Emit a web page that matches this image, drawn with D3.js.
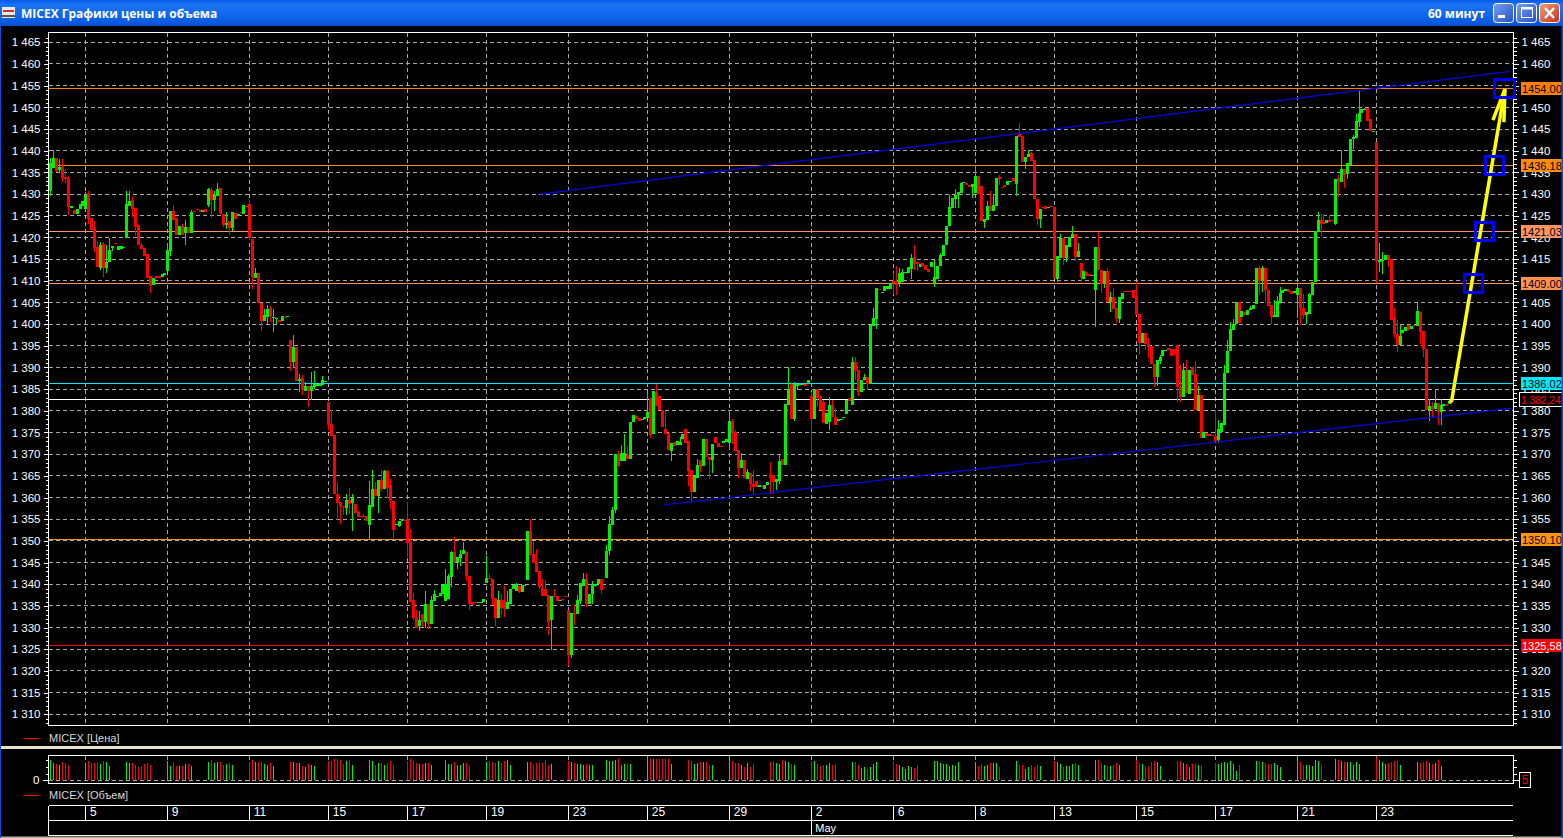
<!DOCTYPE html>
<html><head><meta charset="utf-8">
<script src="https://cdn.jsdelivr.net/npm/d3@7"></script>
<style>html,body{margin:0;padding:0;background:#000;overflow:hidden}svg{display:block}text{font-family:"Liberation Sans",Arial,sans-serif}</style>
</head><body><svg id="c" width="1563" height="838"></svg>
<script>
const titleLeft="MICEX Графики цены и объема", titleRight="60 минут";
const legendPrice="MICEX [Цена]", legendVolume="MICEX [Объем]", monthLabel="May";
const priceTicks=[1465,1460,1455,1450,1445,1440,1435,1430,1425,1420,1415,1410,1405,1400,1395,1390,1385,1380,1375,1370,1365,1360,1355,1350,1345,1340,1335,1330,1325,1320,1315,1310];
const dayTicks=[12,40,68,95,122,149,177,204,232,260,288,316,343,371,398,426,453];
const dayLabels=["5","9","11","15","17","19","23","25","29","2","6","8","13","15","17","21","23"];
const monthTick=260;
const directions=
"GGRGRRRGRG"+"GGGRRRRGRG"+"GGRGGGGGRR"+"RRRRRGRRGG"+"GGRRGRGRGR"+"RRGRGRGGRR"+"GRGRGRGRRR"+"GRRGGRGGRG"+"RGRGRGRGRG"+"GGGGGRRRRR"+
"RGRGRRRRRG"+"GRGRGRRRGG"+"GRRRRRGRGR"+"GGGGGGGGRG"+"GGRRRRGGGG"+"RRRGRRGGGG"+"RGGGRRRRRR"+"RGRRGRRRGR"+"GGGRGGGGRR"+"GGGGRGGRGG"+
"RRGGGRGRRR"+"RRGRGGGRRR"+"GGRGRRGRRR"+"GGGRRRGRGR"+"RRGRGGRRGG"+"RGGRGGGGRG"+"RGRRRGGRRG"+"GGGRGRRGGR"+"GGGRGGGGRR"+"GGGGGRRGRR"+
"RGGGGGGGGG"+"GGGRRGGRRG"+"GRGGRRRGGR"+"GRRGGRRRGR"+"RGRRGGRGGG"+"RGRGRRGGRR"+"GRGRRGGRRR"+"RRRGRRRRGG"+"GGRRRRRGRG"+"RRGRGRRRRG"+
"GGGGGGRGRG"+"GGGRGRRRGG"+"GGGRRGGRRG"+"GGGGRRGRRG"+"RGRGGGGGGG"+"RRGRGGGRRR"+"RGGGRGRGRR"+"RGRGRGGRG";
const bodyTops=[
1437.1,1438.3,1438.3,1436.3,1436.3,1434,1433.5,1427.3,1426.3,1426.5,
1427.7,1428.4,1429.7,1430.2,1424.4,1422.1,1417.7,1418.2,1418.5,1414.4,
1417.1,1418,1418.8,1418,1418,1417.9,1427.7,1428.4,1428.6,1426.7,
1422.8,1418.2,1417.5,1416.1,1411.2,1410.6,1411,1411,1411.5,1411.8,
1417.1,1426.1,1426.1,1424.4,1422.6,1422.6,1422.3,1422.3,1425.8,1426,
1426.5,1426.3,1426.3,1426.5,1431.1,1430.9,1429.8,1431.1,1431.3,1425.5,
1423.4,1423.8,1425.8,1425.7,1425.5,1425.9,1427.5,1427.2,1427.8,1419.6,
1411.8,1411.8,1404.8,1402.1,1403.4,1403.6,1401.7,1401.5,1400.9,1401.8,
1401.7,1401.8,1396.3,1394.7,1394.7,1387.3,1387.5,1385.7,1385.7,1385.7,
1386.3,1386.3,1386.3,1387.2,1386.9,1382,1376.9,1374.4,1360.9,1358.9,
1358,1359.4,1359.4,1360,1358.6,1356.6,1355.7,1355.8,1355.7,1358.2,
1361.9,1361.9,1364,1364,1366.1,1366.1,1363,1359.1,1354,1354.5,
1355,1354.8,1355,1349.7,1336.3,1332.5,1331.7,1333.2,1335.5,1335.5,
1336.3,1337.8,1337.4,1337.9,1339.8,1340,1341.8,1347.4,1347.4,1346.2,
1347,1347.8,1347.5,1341.8,1335.9,1335.9,1336,1335.8,1336.5,1341.5,
1341.5,1341.3,1336.9,1336.3,1336.3,1336.1,1335.8,1338.8,1339.8,1340,
1339.7,1339.9,1339.9,1352.2,1352.2,1346.9,1345.1,1343,1339.2,1339,
1337.6,1337.2,1337.4,1337.4,1336.3,1336.5,1337.4,1334,1333.4,1333.4,
1336.3,1340.4,1341.3,1341.1,1337.8,1340.1,1340.1,1341.1,1341.1,1339.3,
1347.6,1353.8,1357.2,1370.1,1370.1,1370.2,1370.2,1369.8,1377.5,1379,
1378.8,1378.3,1378.2,1378.5,1379.7,1383,1384.6,1384.3,1383.4,1380.3,
1375.8,1374.8,1372.5,1372.8,1373,1372.9,1374.6,1375.9,1373,1366.3,
1364.9,1367.5,1368.6,1373.6,1373.5,1369.3,1372.3,1373.9,1372.5,1371.9,
1373,1373.5,1377.6,1377.6,1375.2,1370.9,1368.6,1368.6,1365.9,1365.7,
1363.2,1363.8,1362.9,1362.6,1363,1363.5,1365.1,1365.2,1364.3,1368.4,
1368.8,1381.6,1385.1,1386.1,1386.3,1386.1,1386.2,1386.2,1386.2,1387.1,
1383.4,1385,1385,1383.4,1382,1379.4,1381.3,1381.3,1378.6,1378.2,
1378.1,1378.5,1382.5,1382.9,1391.2,1391.2,1389.4,1387.2,1387.8,1387.7,
1399.8,1401.3,1408.3,1408.1,1407.5,1408.7,1408.7,1409.5,1409.9,1410,
1411.9,1412.1,1412.1,1413.1,1415.2,1415.4,1414.4,1413.9,1414,1413.6,
1412.7,1414.3,1410.8,1413.4,1415.9,1418.3,1422.6,1427,1429,1429.8,
1430.5,1432.5,1432.7,1432.6,1432.1,1432.3,1434.2,1434.2,1431.9,1424.3,
1427.3,1427.3,1427.5,1433.6,1433.9,1431.6,1432.1,1433,1433.1,1433.6,
1443.4,1444,1443.4,1438.5,1439.3,1439.4,1437.9,1428.8,1426.6,1427,
1427.3,1427,1427.3,1426.9,1415.6,1419.9,1419.8,1418.3,1420,1420.8,
1420.8,1416.9,1414,1412.3,1412,1411.5,1411.4,1417.8,1417.8,1412.5,
1412.3,1412.3,1406.2,1406.2,1403.6,1406.2,1407.1,1407.6,1407.6,1407.6,
1407.8,1406.5,1402.3,1398,1398,1395.4,1394.9,1390.9,1391.7,1392.5,
1394,1394.1,1394.5,1394.2,1394.2,1395.2,1385.6,1389.4,1389.4,1389.4,
1390,1388.5,1383.6,1383.6,1375,1374.8,1374.6,1374.5,1374.2,1375.8,
1377.2,1388.8,1393.8,1398.8,1400.1,1405,1405.1,1403,1402.7,1403.2,
1403.8,1404.3,1412.9,1412.9,1412.9,1412.9,1407.8,1404.4,1402,1405.4,
1407.1,1407.8,1408.2,1408.1,1407.6,1407.7,1408.4,1408.4,1403.6,1402.8,
1406.9,1409.8,1421.5,1424,1424,1423.6,1424,1424,1424,1433.5,
1433.8,1435.8,1435.8,1437.1,1442.7,1443.2,1446.8,1448.8,1449.6,1449.7,
1449.8,1447.3,1444.5,1442,1414.8,1414.9,1415.9,1415.9,1415,1401.3,
1397.8,1397.2,1398.6,1399.4,1399.7,1399.5,1399.9,1403,1402.8,1398.4,
1394.2,1381.1,1381.1,1381.8,1381.7,1381.3,1381.5,1381.6,1382.2];
const bodyBottoms=[
1430.8,1435.9,1435.3,1435.5,1433.8,1433.5,1427.1,1426.8,1425.3,1425.4,
1426.5,1427.2,1426.5,1424.2,1421.7,1417.6,1413.1,1412.9,1412.9,1412.9,
1414.4,1417.5,1418.6,1417.1,1417.4,1417.8,1419.9,1427.3,1426.5,1422.4,
1418.2,1417.3,1415.8,1410.6,1408.8,1409,1410.6,1410.6,1410.8,1411.3,
1412.2,1416.8,1424.1,1420.5,1420.5,1420.5,1420.9,1420.9,1420.9,1425.9,
1426.4,1425.8,1425.8,1425.8,1427.5,1428.6,1428.6,1429.6,1425.4,1422.8,
1422.8,1422.2,1422.2,1424.2,1424.9,1425.8,1425.4,1427.1,1419.8,1410.9,
1410.6,1404.8,1400.7,1400.7,1401.7,1401.8,1401.5,1401.2,1400.5,1400.7,
1401.5,1401.7,1391.3,1391.3,1386.8,1386.8,1384.8,1384.6,1384.6,1384.5,
1385.5,1385.7,1385.7,1385.9,1386.7,1376.7,1374.1,1360.7,1358.8,1358,
1357.7,1357.6,1358.6,1358.8,1356.4,1355.5,1355.4,1355.5,1354.6,1353.6,
1357.8,1360.4,1360.4,1361.9,1361.9,1362.1,1359.1,1352.4,1353.6,1353.4,
1354.6,1354.5,1349.5,1335.9,1332.3,1330,1330.4,1331.3,1331.3,1330.8,
1330.8,1336.1,1337.3,1337.3,1337.8,1336.1,1336.5,1341.7,1345.1,1345.1,
1346,1346.9,1341.8,1335.4,1335.1,1335.7,1335.7,1335.7,1335.8,1340.2,
1341.1,1336.7,1332.2,1332.2,1334.5,1334.4,1334.4,1335.4,1338.8,1338.5,
1338.2,1338.2,1339.6,1340.9,1346.7,1345,1342.8,1339.4,1337.4,1337.4,
1331.4,1331.7,1337.1,1336.1,1336.1,1336.4,1337.1,1323.6,1323.6,1333.2,
1333.1,1336.1,1339.5,1335.4,1335.4,1337.8,1339.5,1340.1,1338.6,1339.2,
1341.4,1347.6,1353.6,1357.1,1367.3,1368.5,1368.5,1368.9,1368.9,1377.5,
1378.1,1377.7,1378,1378.1,1378.3,1374.4,1374.6,1381.2,1380.3,1376.2,
1374.7,1370.9,1370.8,1371.9,1372.2,1372.2,1373.4,1372.6,1366.1,1361.3,
1361.3,1364.6,1367.1,1367.2,1369.3,1368.6,1368.6,1372.6,1371.6,1371.7,
1372.6,1372.9,1372.6,1374.9,1370.8,1366.9,1366.8,1364.6,1364.3,1363.1,
1362.5,1362.5,1362.4,1362.4,1361.9,1362.9,1364.6,1363.5,1363.5,1363.9,
1367.5,1367.5,1381.3,1378.1,1378.2,1385.7,1385.9,1386,1385.7,1386.3,
1378.1,1378.1,1382.9,1380.2,1377.2,1376.9,1377.5,1378.6,1376.7,1377.6,
1377.8,1378.4,1379.2,1382.2,1381.3,1389.2,1384.4,1384.4,1387.2,1386.3,
1386.3,1399.6,1401.2,1407.9,1407.2,1407.6,1408.2,1408.2,1409.4,1409,
1409.4,1409.6,1411.7,1411.7,1412.7,1413.9,1413.8,1413.1,1413.4,1412.5,
1412.1,1413.1,1409.4,1410.3,1413.4,1415.8,1418.3,1422.6,1426.7,1428.8,
1429.7,1430.3,1432.6,1432.1,1431.7,1431.7,1430.2,1430,1423.8,1423.6,
1424,1426.1,1426.1,1427.3,1433.4,1431.5,1431.7,1432.1,1433,1433,
1432.3,1443.1,1437.5,1437.5,1438.5,1437.7,1428.8,1424.3,1424.3,1426.8,
1426.6,1426.9,1427.1,1410.3,1410.3,1415.2,1415.2,1415.2,1417.9,1420,
1415.4,1415.4,1410.7,1410.5,1411.2,1411.2,1411.2,1407.9,1412.5,1409.3,
1409.3,1405.2,1405.2,1403.5,1401.3,1401.2,1405.9,1407.5,1407.5,1407.5,
1406.1,1402.1,1395.7,1395.6,1395.4,1394.8,1390.8,1387.7,1387.7,1391.6,
1392.7,1393.9,1394,1392.7,1392.9,1385.6,1383.1,1383.1,1384,1383.9,
1388.3,1380.2,1380.2,1373.8,1373.8,1374.3,1374.3,1374.2,1373,1373.3,
1375.2,1376.8,1388.8,1393.8,1398.6,1400.1,1400.3,1401.7,1402.2,1402.1,
1403.2,1403.4,1404.6,1409.9,1409.9,1407.8,1404.1,1401.7,1401.6,1401.7,
1404.9,1407.1,1407.6,1407.4,1407,1407.1,1406.7,1403.6,1402.1,1402.1,
1402.3,1406.7,1409.8,1421.3,1423.2,1423.1,1423.4,1423.6,1423.7,1423.2,
1432.8,1432.7,1434.5,1434.6,1436.7,1442.6,1442.9,1446.7,1448.8,1449.5,
1446.9,1444.5,1444.4,1414.5,1414.4,1414.6,1414.8,1414.8,1401,1397.7,
1395.2,1395.2,1398,1398.5,1398.6,1398.8,1399.6,1399.5,1398.2,1394.2,
1380.3,1380.3,1380.5,1380.5,1379.8,1379.8,1381.2,1381.1,1381.6];
// 0 = no wick beyond the body
const highs=[
1438.2,1440.1,0,1438.1,1438.1,1435.8,1434.1,0,0,0,
0,0,1430.5,1430.8,0,1423.8,1418.9,1419,1419,1418.2,
1419.8,0,0,0,0,0,1430.7,1430.7,1429.5,0,
0,1418.8,0,0,0,0,0,0,0,0,
1418.8,0,1427.5,0,0,1423.2,1424.1,0,1426.3,0,
0,0,0,0,1431.5,1431.5,1430.8,1432.5,1431.5,0,
1425.8,0,0,0,0,0,0,0,1428.6,0,
1412.9,0,0,1403.4,1404.4,1404.1,1403.4,0,0,0,
0,0,0,1397.4,0,1388.4,1388.2,1386.7,0,1389,
1389.1,0,0,1388,0,0,1380.3,0,1363.5,0,
0,1360.9,1362.1,1360.7,0,1356.8,0,1356.1,0,1363.8,
1366.4,1363.5,0,1366.4,1366.4,1366.4,1364.2,0,0,0,
0,0,1359,1352.8,1338,1334.1,1333.8,0,1338.4,0,
1337.3,1338.6,0,0,0,1343.5,1342.4,1347.7,1350.9,0,
1348,1349.7,0,0,0,0,0,0,0,1346.5,
1342.3,0,0,1338.4,1337.7,1339.5,1338.4,0,0,1340.4,
0,0,0,0,1355,1350,1348.2,0,1341.3,1341,
0,0,1338.8,0,0,0,0,0,0,1335.5,
1337.5,0,1342.7,1342.7,0,1340.7,0,0,0,0,
1349,1355.8,1357.8,0,1370.7,1372.1,1374.6,1371.9,0,0,
0,0,0,0,1384.2,0,0,1386.2,0,0,
1380,0,0,0,0,1373.9,0,0,0,0,
0,1368.9,0,0,0,0,0,0,0,0,
0,0,1380.2,1378.2,1375.5,0,1370.2,0,1366.6,0,
1366.3,0,0,0,0,0,1368.2,0,0,1369.8,
0,0,1390,1386.6,1386.6,0,0,0,0,0,
1384.4,0,0,0,1382.5,0,1383.1,1382.6,1380.7,0,
0,0,0,0,1392.4,1392.3,0,0,1388.6,0,
0,1403.6,0,0,0,0,0,0,1411.9,1413.4,
1412.9,1412.6,0,0,1416.2,1418.2,0,0,0,0,
0,0,1414.8,0,1416.3,0,0,1429.8,0,1431.1,
0,0,0,0,0,0,1436.6,0,0,0,
1428.3,1430.6,1430,0,1434.4,0,0,0,0,0,
0,1446.4,0,0,1440.2,1439.8,0,0,0,0,
0,0,0,0,0,1420.7,0,0,0,1422.6,
0,1418.6,0,0,0,0,0,0,1421.3,0,
0,1412.9,1407.5,1408.3,0,0,0,0,0,0,
0,1409.6,0,0,0,1396.7,0,0,0,1392.9,
0,0,0,0,0,1395.4,1390.6,1391.1,1391.7,0,
0,1391.5,1385.7,0,0,0,0,0,1380.2,1377.9,
0,1390.5,1396.4,1400.5,1401.1,0,0,0,0,0,
1404.2,0,0,1413.5,1413.4,0,0,0,1405.5,1406.4,
1408.5,0,0,0,0,0,1409.2,0,1407,0,
1407.2,0,0,1425.9,1425.3,1425.3,0,1425.1,0,0,
1434.4,1440.1,0,0,0,1443.6,1448.5,1453.8,0,1449.9,
0,0,0,0,1418.6,1416.7,0,0,0,1403.8,
1400.9,1400.1,0,0,0,0,0,1404.8,0,0,
0,1382.8,1382.1,1384.8,0,1382.8,0,0,0];
const lows=[
1429.6,0,1435,1434.8,1432.8,1432.5,1425.15,0,0,0,
0,0,0,1423.1,0,1416.7,0,1412.5,1410.9,1411.8,
0,1416.9,0,0,0,0,0,0,1424.8,1420.3,
0,0,0,0,1407.1,0,0,0,0,0,
0,1415.7,0,0,0,0,1418.2,0,0,0,
0,0,0,0,1427,1424.5,1426,0,0,1422.3,
1422,1420.5,1421.5,0,0,0,0,0,1419.4,1408.1,
0,0,1398.4,0,1400.1,1400.5,1398.2,1400.1,0,0,
0,0,1389.2,1389.8,0,1384.4,1383.6,0,1380.9,1382.6,
1385.1,0,0,0,0,1375.5,0,0,1354.8,1353.8,
1355.9,1355.9,1356.1,1352.3,0,0,0,0,0,1350.3,
0,0,1356.4,1361.5,0,1360,1357.3,1350.7,0,1353.1,
0,0,1346.3,0,1331.7,0,1329.1,1330.1,1330,1329.7,
0,0,0,0,0,0,0,1339.4,0,1343.5,
1344.2,0,1340.8,1334,0,0,0,0,0,0,
0,1335.1,1330.3,0,1332.8,1332.4,1334.3,0,0,0,
1338,0,0,0,0,0,0,1338.8,0,0,
1328.2,1324.9,0,0,0,0,0,1321.1,1322.9,1330.5,
0,1335.4,0,1334.8,0,1335.4,0,0,1337.8,0,
0,1346.7,0,1356.4,1367,0,0,0,0,0,
0,0,0,0,0,1373.8,0,0,0,0,
0,0,1368.5,0,0,0,0,0,1362.6,1358.9,
0,0,1365.9,0,0,1364.3,1365.7,0,0,0,
0,0,1371.3,1372.3,0,1364.6,0,0,0,1361.6,
1360.9,0,0,0,0,0,1360.9,1360.9,1361.7,1363.2,
0,0,0,0,1377.7,1384.8,0,0,0,0,
1370.2,0,1380.9,0,0,0,1375.6,0,0,0,
0,0,0,0,0,1387.1,1383.4,0,0,1384.8,
0,0,1398.9,0,0,0,0,0,1406.9,1406.7,
1408.6,0,0,0,1410.4,1412.5,1412.3,0,0,0,
0,0,1408.6,0,0,0,0,0,0,1426.7,
1426.7,0,0,0,0,1429.2,0,0,0,1422.1,
0,0,0,0,1432.1,0,0,0,0,0,
1429.6,0,0,1435.8,0,0,0,1422.9,1422.1,0,
0,0,0,0,1409.8,0,1413.6,1414.3,0,0,
1414.6,0,1409.8,0,0,0,0,1399.3,0,1407.1,
1408.3,0,1402.9,0,1400.3,1400.3,0,0,0,0,
0,0,1392.9,0,1394,1392.1,0,1385.6,1385.8,1390.7,
0,0,0,0,0,1382.1,1382.1,0,0,0,
0,0,0,0,0,0,0,0,0,1372.6,
1374.8,0,0,0,0,0,0,0,0,0,
0,0,0,1406.7,1407.5,1404.8,0,1400,0,0,
0,0,0,0,0,0,1401.5,1399.8,1401.2,1400.1,
0,0,0,0,1420.3,0,0,0,0,1422.8,
1429.4,0,1431.5,1433.4,0,1440.3,0,1445.5,0,0,
0,0,0,1409.4,1412,1411.5,0,1413.2,0,1396.9,
1393.6,0,0,0,0,0,0,0,1395.5,1392.5,
0,1377.7,1378.6,0,1376.7,1376.7,0,0,0];
const volumeDayStarts=[0,12,26,40,54,68,82,95,109,122,135,149,163,177,190,204,218,232,246,260,274,288,302,316,330,343,357,371,385,398,412,426,439,453,467];
const volumeDayCounts=[7,9,9,9,9,9,9,9,9,9,9,9,9,9,9,9,9,9,9,9,9,9,9,9,9,9,9,9,9,9,9,9,9,9,9];
const volumes=[
20,17,16,15,18,17,15,
17,19,17,17,18,16,19,18,14,
18,17,17,15,13,14,16,17,15,
19,14,18,14,14,14,16,16,14,
18,20,17,18,18,15,16,17,15,
18,20,18,18,18,16,15,17,14,
18,18,17,17,14,13,16,15,14,
19,19,21,21,20,16,19,20,15,
20,19,15,17,17,15,17,19,15,
19,21,19,17,16,16,17,17,15,
20,16,16,18,15,15,17,17,15,
18,19,18,17,19,17,19,20,15,
18,18,15,17,17,17,20,15,16,
19,18,17,16,16,15,16,15,15,
20,19,19,20,21,15,16,17,16,
23,21,21,21,21,21,21,21,16,
20,19,16,17,18,18,18,15,15,
20,19,17,17,15,13,17,13,16,
18,19,17,16,20,19,18,16,15,
19,19,16,14,15,15,17,15,16,
18,18,15,12,13,11,13,16,18,
19,16,15,13,11,14,13,12,15,
19,19,17,16,16,14,15,14,18,
18,14,16,14,15,17,17,17,13,
19,15,15,11,13,15,13,15,14,
19,18,16,13,14,14,16,17,15,
20,20,17,15,14,14,15,17,15,
20,17,16,14,14,18,19,18,14,
19,19,17,16,13,16,16,15,15,
17,16,17,18,17,19,16,9,15,
19,19,18,17,16,16,17,15,13,
20,18,15,15,15,14,20,19,15,
21,20,19,18,18,18,15,18,16,
23,20,18,16,17,18,19,19,15,
18,17,18,19,17,16,17,20,14];
const levelValues=[1454.4,1436.6,1421.4,1409.4,1386.35,1382.7,1350.4,1325.9];
const levelTexts=["1454.00","1436.18","1421.03","1409.00","1386.02","1 382,24","1350.10","1325,58"];
const levelColors=["#ff8000","#ff8a10","#ff9460","#ff9050","#00e6ff","#ffffff","#ff9410","#ff0000"];
const levelTextColors=["#000","#000","#000","#000","#000","#ff0000","#000","#fff"];
const trendUpperIdx=[167.3,498.7], trendUpperPrice=[1430,1458.3];
const trendLowerIdx=[209.7,499.3], trendLowerPrice=[1358.3,1380.6];
const arrowIdx=[478,478.8,497], arrowPrice=[1381.9,1382.3,1454.2];
const markerIdx=[486.3,490,493.5,497], markerPrice=levelValues.slice(0,4).reverse();

const svg=d3.select("#c");
const x=d3.scaleLinear().domain([0,478]).range([50.3,1449.3]);
const y=d3.scaleLinear().domain([1310,1465]).range([714.3,42.3]);
const yVol=d3.scaleLinear().domain([0,25]).range([780.3,755.3]);
const L=48.5,R=1513.5,T=32.5,B=725.5,VT=755.5,VB=783.5;
const GREEN="#00f000",RED="#ff0000",GRID="#a8a8a8";

// title bar
const defs=svg.append("defs");
const tg=defs.append("linearGradient").attr("id","tb").attr("x1",0).attr("x2",0).attr("y1",0).attr("y2",1);
[[0,"#0a5ae8"],[0.2,"#1b73f2"],[0.55,"#1168ee"],[0.85,"#0a5be0"],[1,"#0a4fd0"]].forEach(s=>tg.append("stop").attr("offset",s[0]).attr("stop-color",s[1]));
const bg=defs.append("linearGradient").attr("id","bb").attr("x1",0).attr("x2",1).attr("y1",0).attr("y2",1);
bg.append("stop").attr("offset",0).attr("stop-color","#7aa0f0");bg.append("stop").attr("offset",1).attr("stop-color","#2350c8");
const cg=defs.append("linearGradient").attr("id","cb").attr("x1",0).attr("x2",1).attr("y1",0).attr("y2",1);
cg.append("stop").attr("offset",0).attr("stop-color","#f0a080");cg.append("stop").attr("offset",1).attr("stop-color","#c83010");
svg.append("rect").attr("width",1563).attr("height",26).attr("fill","url(#tb)");
const ic=svg.append("g");
ic.append("rect").attr("x",2).attr("y",7).attr("width",13).attr("height",11).attr("fill","#e8e8e8");
ic.append("rect").attr("x",3).attr("y",10).attr("width",11).attr("height",2).attr("fill","#d03030");
ic.append("rect").attr("x",2).attr("y",15).attr("width",13).attr("height",2).attr("fill","#555");
svg.append("text").attr("x",21).attr("y",18).attr("fill","#fff").attr("font-size",12).attr("font-weight","bold").attr("style","font-family:'Open Sans'").text(titleLeft);
svg.append("text").attr("x",1428).attr("y",18).attr("fill","#fff").attr("font-size",12).attr("font-weight","bold").attr("style","font-family:'Open Sans'").text(titleRight);
[[1494,"url(#bb)"],[1517,"url(#bb)"],[1540,"url(#cb)"]].forEach(b=>svg.append("rect").attr("x",b[0]-.5).attr("y",3.5).attr("width",20).attr("height",19).attr("rx",3).attr("fill",b[1]).attr("stroke","#fff"));
svg.append("rect").attr("x",1498).attr("y",15).attr("width",7).attr("height",3).attr("fill","#fff");
svg.append("rect").attr("x",1521.5).attr("y",7.5).attr("width",11).attr("height",10).attr("fill","none").attr("stroke","#fff");
svg.append("rect").attr("x",1521).attr("y",7).attr("width",12).attr("height",2.5).attr("fill","#fff");
svg.append("path").attr("d","M1545 8L1554 18M1554 8L1545 18").attr("stroke","#fff").attr("stroke-width",2.4);

// grid
const grid=svg.append("g").attr("stroke",GRID).attr("stroke-dasharray","4 3").attr("stroke-width",1).attr("shape-rendering","crispEdges");
grid.selectAll(".h").data(priceTicks).join("line").attr("x1",L).attr("x2",R).attr("y1",d=>y(d)).attr("y2",d=>y(d));
grid.selectAll(".v").data(dayTicks).join("line").attr("x1",d=>x(d)).attr("x2",d=>x(d)).attr("y1",T).attr("y2",B);
grid.selectAll(".vv").data(dayTicks).join("line").attr("x1",d=>x(d)).attr("x2",d=>x(d)).attr("y1",VT).attr("y2",VB);
grid.append("line").attr("x1",L).attr("x2",R).attr("y1",yVol(0)).attr("y2",yVol(0));

// level lines
svg.append("g").selectAll("line").data(levelValues).join("line").attr("x1",L).attr("x2",R-1).attr("y1",d=>y(d)).attr("y2",d=>y(d))
 .attr("stroke",(d,i)=>levelColors[i]).attr("shape-rendering","crispEdges");

// candles
const idx=d3.range(bodyTops.length);
const cg2=svg.append("g").attr("shape-rendering","crispEdges");
const colorOf=i=>directions[i]==="G"?GREEN:RED;
cg2.selectAll(".w").data(idx).join("line").attr("x1",i=>Math.round(x(i))+.5).attr("x2",i=>Math.round(x(i))+.5)
 .attr("y1",i=>y(highs[i]||bodyTops[i])).attr("y2",i=>y(lows[i]||bodyBottoms[i])).attr("stroke",colorOf);
cg2.selectAll(".b").data(idx).join("rect").attr("x",i=>Math.round(x(i))-1).attr("width",3)
 .attr("y",i=>y(bodyTops[i])).attr("height",i=>Math.max(1,y(bodyBottoms[i])-y(bodyTops[i]))).attr("fill",colorOf);

// trend lines
const tl=d3.line().x(d=>x(d[0])).y(d=>y(d[1]));
svg.append("path").attr("d",tl(d3.zip(trendUpperIdx,trendUpperPrice))).attr("stroke","#0000e6").attr("stroke-width",1.2).attr("fill","none");
svg.append("path").attr("d",tl(d3.zip(trendLowerIdx,trendLowerPrice))).attr("stroke","#0000e6").attr("stroke-width",1.2).attr("fill","none");

// frames
[[L,T,R-L,B-T],[L,VT,R-L,VB-VT]].forEach(f=>svg.append("rect").attr("x",f[0]).attr("y",f[1]).attr("width",f[2]).attr("height",f[3]).attr("fill","none").attr("stroke","#fff").attr("shape-rendering","crispEdges"));

// volume bars
const volIdx=volumeDayStarts.flatMap((s,k)=>d3.range(volumeDayCounts[k]).map(j=>s+j));
svg.append("g").attr("shape-rendering","crispEdges").selectAll("line").data(volIdx).join("line")
 .attr("x1",i=>Math.round(x(i))+.5).attr("x2",i=>Math.round(x(i))+.5).attr("y1",yVol(0)).attr("y2",(i,k)=>yVol(volumes[k])).attr("stroke",i=>colorOf(i));

// price axes
const fmt=d=>{const s=String(d);return s[0]+" "+s.slice(1)};
function styleAxis(g){g.select(".domain").remove();g.selectAll("line").attr("stroke","#fff").attr("shape-rendering","crispEdges");g.selectAll("text").attr("fill","#fff").attr("font-size",11.5).attr("font-family","Liberation Sans");}
const minor=d3.range(1308,1467);
svg.append("g").attr("transform",`translate(${L},0)`).call(d3.axisLeft(y).tickValues(minor).tickSize(3).tickFormat("")).call(styleAxis);
svg.append("g").attr("transform",`translate(${L},0)`).call(d3.axisLeft(y).tickValues(priceTicks).tickSize(5).tickPadding(3).tickFormat(fmt)).call(styleAxis);
svg.append("g").attr("transform",`translate(${R},0)`).call(d3.axisRight(y).tickValues(minor).tickSize(3).tickFormat("")).call(styleAxis);
svg.append("g").attr("transform",`translate(${R},0)`).call(d3.axisRight(y).tickValues(priceTicks).tickSize(5).tickPadding(3).tickFormat(fmt)).call(styleAxis);

// volume axes
const volTicks=[0,6.67,13.33,20];
svg.append("g").attr("transform",`translate(${L},0)`).call(d3.axisLeft(yVol).tickValues(volTicks).tickSize(3).tickFormat("")).call(styleAxis);
svg.append("g").attr("transform",`translate(${L},0)`).call(d3.axisLeft(yVol).tickValues([0]).tickSize(6).tickPadding(3).tickFormat(d3.format("d"))).call(styleAxis);
svg.append("g").attr("transform",`translate(${R},0)`).call(d3.axisRight(yVol).tickValues(volTicks).tickSize(3).tickFormat("")).call(styleAxis);
svg.append("g").attr("transform",`translate(${R},0)`).call(d3.axisRight(yVol).tickValues([0]).tickSize(6).tickFormat("")).call(styleAxis);
svg.append("rect").attr("x",1519.5).attr("y",772.5).attr("width",11).attr("height",15).attr("fill","#000").attr("stroke","#fff").attr("shape-rendering","crispEdges");
svg.append("text").attr("x",1525).attr("y",784).attr("text-anchor","middle").attr("fill","#ff0000").attr("font-size",12).text("5");

// level badges
const badges=svg.append("g").selectAll("g").data(levelValues).join("g");
badges.append("rect").attr("x",(d,i)=>i===5?1519.5:1521).attr("y",d=>Math.round(y(d))-6.5).attr("width",(d,i)=>i===5?43:42).attr("height",(d,i)=>i===5?14:13)
 .attr("fill",(d,i)=>i===5?"#000":levelColors[i]).attr("stroke",(d,i)=>i===5?"#fff":"none").attr("shape-rendering","crispEdges");
badges.append("text").attr("x",(d,i)=>i===5?1521:1522).attr("y",d=>Math.round(y(d))+4.5).attr("font-size",(d,i)=>i===5?10.2:11).attr("fill",(d,i)=>levelTextColors[i]).text((d,i)=>levelTexts[i]);

// yellow forecast arrow
const ay=d3.zip(arrowIdx,arrowPrice);
svg.append("path").attr("d",tl(ay)).attr("stroke","#ffff00").attr("stroke-width",3.5).attr("fill","none");
const tip=ay[2];
const tx=x(tip[0]),ty=y(tip[1]);
svg.append("path").attr("d",`M${tx-12},${ty+31}L${tx},${ty}L${tx-1},${ty+33}`).attr("stroke","#ffff00").attr("stroke-width",3.5).attr("fill","none");
// blue squares on the arrow
svg.append("g").selectAll("rect").data(markerIdx).join("rect")
 .attr("x",(d,i)=>x(d)-(i===3?10:9)).attr("y",(d,i)=>y(markerPrice[i])-9)
 .attr("width",(d,i)=>i===3?20:18).attr("height",18).attr("fill","none").attr("stroke","#0000ff").attr("stroke-width",3).attr("shape-rendering","crispEdges");

// legends and separators
[[738.5,legendPrice],[795.5,legendVolume]].forEach(l=>{
 svg.append("line").attr("x1",24).attr("x2",39).attr("y1",l[0]).attr("y2",l[0]).attr("stroke","#ff0000").attr("shape-rendering","crispEdges");
 svg.append("text").attr("x",49).attr("y",l[0]+3.5).attr("fill","#d8d8d8").attr("font-size",11).text(l[1]);
});
svg.append("rect").attr("x",0).attr("y",746).attr("width",1563).attr("height",3).attr("fill","#e6e2c8");

// date table with the library's axis
const dg=svg.append("g").attr("transform","translate(0,805.5)").call(d3.axisBottom(x).tickValues(dayTicks).tickSize(15).tickPadding(0).tickFormat((d,i)=>dayLabels[i]));
dg.select(".domain").remove();
dg.selectAll("line").attr("stroke","#fff").attr("shape-rendering","crispEdges");
dg.selectAll("text").attr("fill","#fff").attr("font-size",12).attr("text-anchor","start").attr("x",4).attr("y",2).attr("dy",null).attr("dominant-baseline","hanging").attr("font-family","Liberation Sans");
[805.5,820.5,835.5].forEach(v=>svg.append("line").attr("x1",L).attr("x2",R-1).attr("y1",v).attr("y2",v).attr("stroke","#fff").attr("shape-rendering","crispEdges"));
svg.append("line").attr("x1",L).attr("x2",L).attr("y1",805.5).attr("y2",835.5).attr("stroke","#fff").attr("shape-rendering","crispEdges");
svg.append("line").attr("x1",x(monthTick)).attr("x2",x(monthTick)).attr("y1",820.5).attr("y2",835.5).attr("stroke","#fff").attr("shape-rendering","crispEdges");
svg.append("text").attr("x",x(monthTick)+4).attr("y",832).attr("fill","#fff").attr("font-size",11).text(monthLabel);
svg.append("rect").attr("x",0).attr("y",836.5).attr("width",1563).attr("height",1.5).attr("fill","#b8b49c");
svg.append("rect").attr("x",1561.5).attr("y",26).attr("width",1.5).attr("height",812).attr("fill","#0a50d8");
svg.append("rect").attr("x",0).attr("y",26).attr("width",1).attr("height",812).attr("fill","#0a50d8");
</script></body></html>
